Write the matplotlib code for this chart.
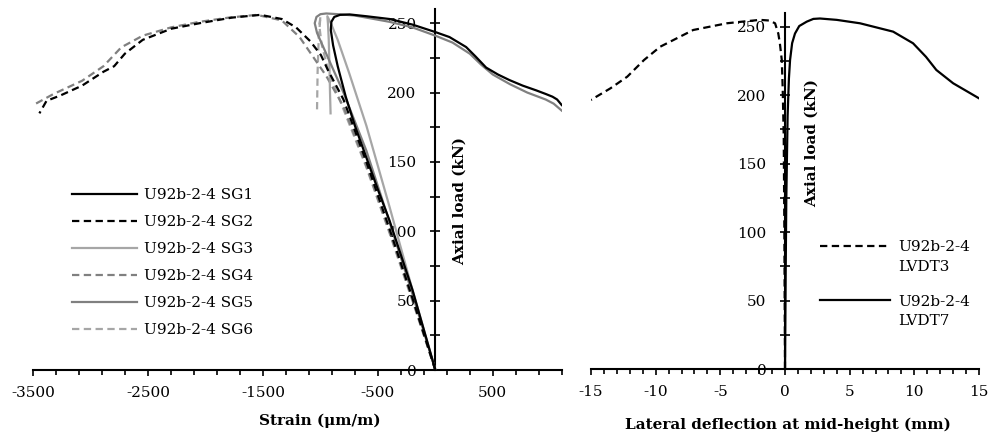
import numpy as np
import matplotlib
matplotlib.use("Agg")
import matplotlib.pyplot as plt
from matplotlib.ticker import FixedLocator
from matplotlib.legend_handler import HandlerLine2D

plt.rcParams['font.family'] = ['DejaVu Serif']
plt.rcParams['axes.unicode_minus'] = False

# strain (um/m) vs axial load (kN)
sg1_x = [0, -100, -200, -300, -400, -500, -600, -700, -780, -850, -890, -910, -905, -880, -830, -746, -600, -398, -200, 0, 123, 268, 350, 442, 545, 645, 760, 877, 960, 1020, 1060, 1100]
sg1_y = [0, 29, 58, 83, 108, 130, 153, 176, 197, 219, 234, 245, 251, 254.5, 256, 256.3, 255, 253, 249, 243.6, 240, 232.8, 226, 218, 213, 209, 205, 201.6, 199, 197, 195, 191]

sg2_x = [0, -200, -400, -600, -800, -934, -996, -1089, -1213, -1337, -1523, -1772, -2051, -2299, -2547, -2703, -2796, -2889, -3075, -3261, -3385, -3447]
sg2_y = [0, 52, 102, 150, 195, 216, 227, 237, 247, 253, 256, 254, 250, 246, 238, 228, 219, 215, 205, 198, 194, 185]

sg3_x = [0, -200, -400, -600, -750, -850, -910, -940, -935, -928, -922, -917, -912]
sg3_y = [0, 58, 118, 176, 214, 238, 250, 255, 250, 238, 220, 200, 185]

sg4_x = [0, -200, -400, -600, -800, -950, -1058, -1182, -1337, -1554, -1800, -2051, -2299, -2547, -2734, -2889, -3075, -3323, -3500]
sg4_y = [0, 51, 100, 147, 190, 212, 225, 240, 252, 256, 254, 251, 247, 241, 232.6, 219, 208.5, 199, 191]

sg5_x = [0, -200, -400, -600, -800, -950, -1030, -1050, -1035, -1000, -950, -850, -700, -400, -200, 0, 150, 300, 400, 500, 650, 800, 960, 1030, 1100]
sg5_y = [0, 55, 107, 158, 200, 228, 243, 250, 254.5, 256.5, 257, 256.5, 255.5, 251, 247, 241, 236, 228, 220, 213, 206, 200, 195, 192, 187]

sg6_x = [0, -200, -400, -600, -800, -930, -990, -1010, -1000, -1015, -1025, -1030]
sg6_y = [0, 50, 99, 146, 188, 215, 235, 248, 255, 240, 215, 187]

sg_labels = ['U92b-2-4 SG1', 'U92b-2-4 SG2', 'U92b-2-4 SG3',
             'U92b-2-4 SG4', 'U92b-2-4 SG5', 'U92b-2-4 SG6']

# lateral deflection (mm) vs axial load (kN)
lvdt3_x = [0, -0.05, -0.1, -0.18, -0.25, -0.4, -0.52, -0.77, -1.2, -1.93, -3.0, -4.5, -7.1, -9.65, -10.9, -12.2, -13.5, -14.8, -15]
lvdt3_y = [0, 100, 170, 205, 225.7, 238, 245, 252.5, 254.5, 255, 254, 252.5, 247.6, 235.4, 225.7, 213.5, 205, 197.7, 196.5]

lvdt7_x = [0, 0.05, 0.1, 0.2, 0.3, 0.39, 0.55, 0.77, 1.1, 1.68, 2.19, 2.7, 4.0, 5.8, 8.36, 9.9, 10.9, 11.7, 13.0, 15.0]
lvdt7_y = [0, 70, 125, 185, 212, 225.7, 238, 245, 250.5, 253.7, 255.7, 256, 255, 252.5, 246.4, 237.9, 228, 218.4, 208.7, 197.7]
lvdt_labels = ['U92b-2-4\nLVDT3', 'U92b-2-4\nLVDT7']

BLACK = '#000000'
MID = '#808080'
LIGHT = '#a6a6a6'
DASH = (0, (3.3, 2))


class UpperHandler(HandlerLine2D):
    # put the legend line next to the first text line
    def create_artists(self, legend, orig_handle, xdescent, ydescent,
                       width, height, fontsize, trans):
        return super().create_artists(legend, orig_handle, xdescent,
                                      ydescent - 16.5, width, height,
                                      fontsize, trans)


def style_axes(ax):
    for s in ['top', 'right']:
        ax.spines[s].set_visible(False)
    ax.spines['left'].set_position(('data', 0))
    ax.spines['left'].set_linewidth(1.5)
    ax.spines['bottom'].set_linewidth(1.5)
    ax.tick_params(axis='x', which='major', direction='out', length=4.5, width=1.2,
                   labelsize=11, pad=7)
    ax.tick_params(axis='x', which='minor', direction='out', length=3.5, width=1.2)
    ax.tick_params(axis='y', which='both', direction='inout', length=7, width=1.2,
                   labelsize=11, pad=10)
    ax.set_ylim(0, 260)
    ax.yaxis.set_major_locator(FixedLocator(np.arange(0, 251, 50)))
    ax.yaxis.set_minor_locator(FixedLocator(np.arange(0, 260, 25)))


fig = plt.figure(figsize=(9.91, 4.37), dpi=100)
ax1 = fig.add_axes([0.0336, 0.1533, 0.5332, 0.8254])
ax2 = fig.add_axes([0.5964, 0.1556, 0.3915, 0.8146])
ax1.patch.set_alpha(0)
ax2.patch.set_alpha(0)

series = [(sg1_x, sg1_y, BLACK, '-', 6), (sg2_x, sg2_y, BLACK, DASH, 5),
          (sg3_x, sg3_y, LIGHT, '-', 3), (sg4_x, sg4_y, MID, DASH, 2),
          (sg5_x, sg5_y, MID, '-', 4), (sg6_x, sg6_y, LIGHT, DASH, 1)]
for (x, y, c, ls, z), lab in zip(series, sg_labels):
    ax1.plot(x, y, color=c, linestyle=ls, lw=1.6, zorder=z, label=lab)

ax1.set_xlim(-3500, 1100)
ax1.xaxis.set_major_locator(FixedLocator(np.arange(-3500, 1101, 1000)))
ax1.xaxis.set_minor_locator(FixedLocator(np.arange(-3500, 1101, 200)))
style_axes(ax1)
ax1.legend(loc='upper left', bbox_to_anchor=(0.0723, 0.5046), frameon=False,
           fontsize=11, handlelength=4.3, handletextpad=0.45, labelspacing=0.85,
           borderaxespad=0, borderpad=0)

ax2.plot(lvdt3_x, lvdt3_y, color=BLACK, linestyle=DASH, lw=1.6, label=lvdt_labels[0])
ax2.plot(lvdt7_x, lvdt7_y, color=BLACK, linestyle='-', lw=1.6, label=lvdt_labels[1])
ax2.set_xlim(-15, 15)
ax2.xaxis.set_major_locator(FixedLocator(np.arange(-15, 16, 5)))
ax2.xaxis.set_minor_locator(FixedLocator(np.arange(-15, 16, 1)))
style_axes(ax2)
h, l = ax2.get_legend_handles_labels()
leg2 = ax2.legend(h, l, loc='upper left', bbox_to_anchor=(0.59, 0.3615), frameon=False,
                  fontsize=11, handlelength=4.6, handletextpad=0.5, labelspacing=1.4,
                  borderaxespad=0, borderpad=0,
                  handler_map={hh: UpperHandler() for hh in h})
for t in leg2.get_texts():
    t.set_linespacing(1.48)

fig.text(319.6 / 991, 1 - 421 / 437, 'Strain (\u03bcm/m)', ha='center', va='center',
         fontsize=11, fontweight='bold')
fig.text(788 / 991, 1 - 425 / 437, 'Lateral deflection at mid-height (mm)',
         ha='center', va='center', fontsize=11, fontweight='bold')
fig.text(460 / 991, 1 - 201 / 437, 'Axial load (kN)', rotation=90, ha='center',
         va='center', fontsize=11, fontweight='bold')
fig.text(811.7 / 991, 1 - 143 / 437, 'Axial load (kN)', rotation=90, ha='center',
         va='center', fontsize=11, fontweight='bold')

fig.savefig('out.png', dpi=100)
